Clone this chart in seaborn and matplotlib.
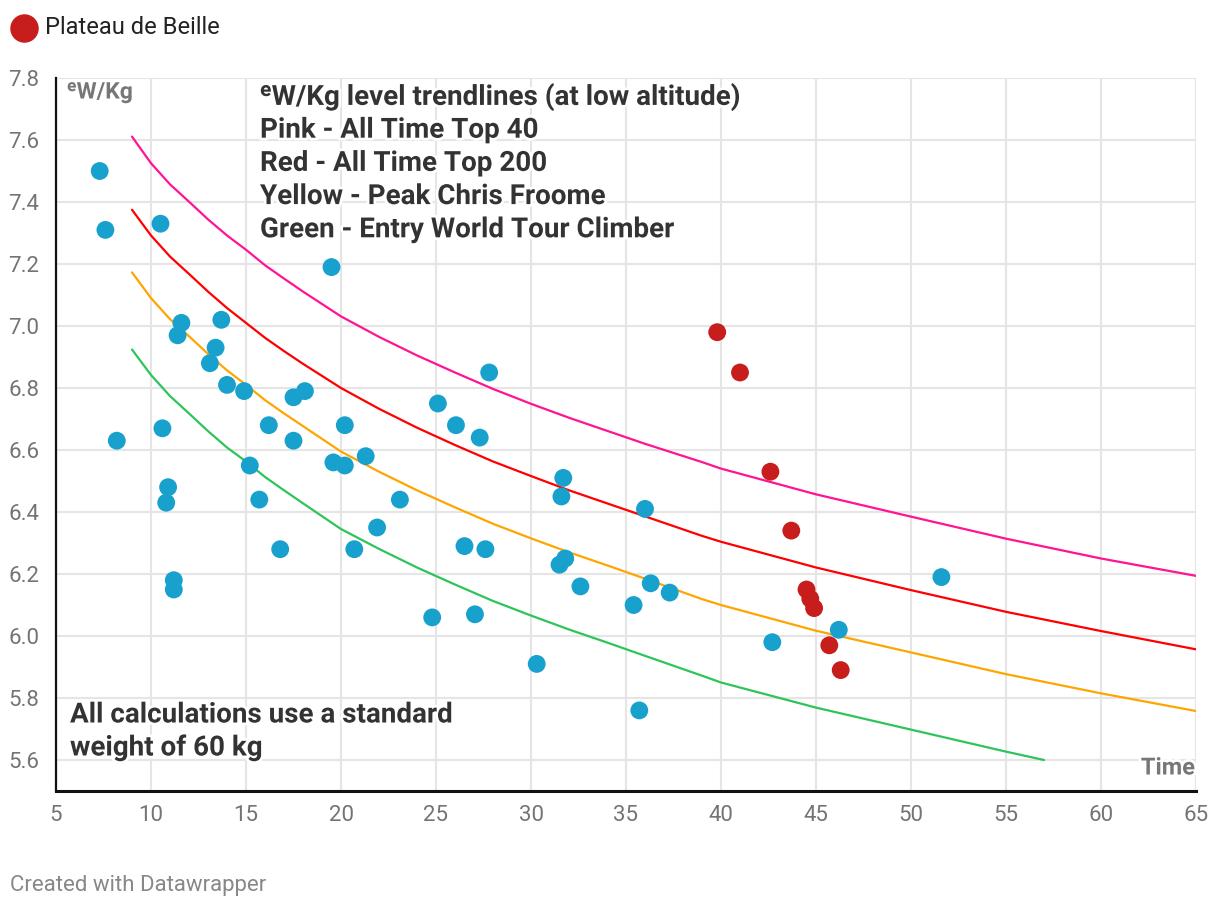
import matplotlib
matplotlib.use("Agg")
import matplotlib.pyplot as plt
import matplotlib.patheffects as pe
from matplotlib.lines import Line2D
import seaborn as sns
import pandas as pd

# ---------------- data ----------------
blue_x = [7.3, 7.6, 8.2, 10.5, 10.6, 10.9, 10.8, 11.2, 11.2, 11.6, 11.4, 13.7, 13.4, 13.1,
          14.0, 14.9, 15.2, 15.7, 16.2, 16.8, 17.5, 18.1, 17.5, 19.5, 19.6, 20.2, 20.2, 20.7,
          21.3, 21.9, 23.1, 24.8, 25.1, 26.05, 26.5, 27.3, 27.05, 27.6, 27.8, 30.3, 31.7,
          31.6, 31.8, 31.5, 32.6, 35.4, 35.7, 36.0, 36.3, 37.3, 42.7, 46.2, 51.6]
blue_y = [7.50, 7.31, 6.63, 7.33, 6.67, 6.48, 6.43, 6.18, 6.15, 7.01, 6.97, 7.02, 6.93, 6.88,
          6.81, 6.79, 6.55, 6.44, 6.68, 6.28, 6.77, 6.79, 6.63, 7.19, 6.56, 6.55, 6.68, 6.28,
          6.58, 6.35, 6.44, 6.06, 6.75, 6.68, 6.29, 6.64, 6.07, 6.28, 6.85, 5.91, 6.51,
          6.45, 6.25, 6.23, 6.16, 6.10, 5.76, 6.41, 6.17, 6.14, 5.98, 6.02, 6.19]

plateau_x = [39.8, 41.0, 42.6, 43.7, 44.5, 44.7, 44.9, 45.7, 46.3]
plateau_y = [6.98, 6.85, 6.53, 6.34, 6.15, 6.12, 6.09, 5.97, 5.89]

trend_x = [9, 10, 11, 12, 13, 14, 15, 16, 17, 18, 20, 22, 24, 26, 28, 30, 32, 34, 36, 39,
           40, 45, 50, 55, 60, 65]
pink_y = [7.611, 7.525, 7.457, 7.401, 7.344, 7.292, 7.246, 7.196, 7.153, 7.111, 7.031,
          6.965, 6.905, 6.850, 6.797, 6.749, 6.704, 6.662, 6.620, 6.561, 6.540, 6.457,
          6.385, 6.314, 6.250, 6.194]
red_y = [7.375, 7.292, 7.224, 7.168, 7.111, 7.058, 7.010, 6.962, 6.919, 6.878, 6.800,
         6.733, 6.672, 6.616, 6.563, 6.516, 6.470, 6.428, 6.386, 6.323, 6.304, 6.221,
         6.148, 6.078, 6.016, 5.957]
yellow_y = [7.173, 7.090, 7.022, 6.967, 6.910, 6.857, 6.810, 6.761, 6.718, 6.677, 6.595,
            6.530, 6.470, 6.415, 6.362, 6.315, 6.270, 6.228, 6.185, 6.119, 6.100, 6.017,
            5.947, 5.877, 5.815, 5.758]
green_x = [9, 10, 11, 12, 13, 14, 15, 16, 17, 18, 20, 22, 24, 26, 28, 30, 32, 34, 36, 39,
           40, 45, 50, 55, 57]
green_y = [6.924, 6.842, 6.774, 6.718, 6.661, 6.608, 6.563, 6.513, 6.470, 6.428, 6.345,
           6.281, 6.221, 6.166, 6.113, 6.066, 6.021, 5.979, 5.936, 5.872, 5.850, 5.769,
           5.698, 5.627, 5.600]

x_ticks = [5, 10, 15, 20, 25, 30, 35, 40, 45, 50, 55, 60, 65]
y_ticks = [5.6, 5.8, 6.0, 6.2, 6.4, 6.6, 6.8, 7.0, 7.2, 7.4, 7.6, 7.8]

legend_label = "Plateau de Beille"
note_lines = ["\u1d49W/Kg level trendlines (at low altitude)",
              "Pink - All Time Top 40",
              "Red - All Time Top 200",
              "Yellow - Peak Chris Froome",
              "Green - Entry World Tour Climber"]
weight_note = ["All calculations use a standard", "weight of 60 kg"]

# ---------------- style ----------------
sns.set_theme(style="white")
plt.rcParams['font.family'] = ['Roboto', 'DejaVu Sans']

W, H = 1220, 910
fig = plt.figure(figsize=(W / 100, H / 100), dpi=100)
ax = fig.add_axes([56 / W, 1 - 791 / H, (1196 - 56) / W, (791 - 78) / H])

GRID = "#e5e5e5"
for xv in x_ticks:
    ax.axvline(xv, color=GRID, lw=1.5, zorder=0)
for yv in y_ticks:
    ax.axhline(yv, color=GRID, lw=1.5, zorder=0)

lines = [(trend_x, pink_y, "#ff1493"), (trend_x, red_y, "#ff0000"),
         (trend_x, yellow_y, "#ffa500"), (green_x, green_y, "#2ec45a")]
for xs, ys, c in lines:
    sns.lineplot(x=xs, y=ys, ax=ax, color=c, lw=1.6, zorder=2, sort=False)

blue_df = pd.DataFrame({"x": blue_x, "y": blue_y})
red_df = pd.DataFrame({"x": plateau_x, "y": plateau_y})
sns.scatterplot(data=blue_df, x="x", y="y", ax=ax, color="#18a1cd", s=165,
                edgecolor="none", zorder=3)
sns.scatterplot(data=red_df, x="x", y="y", ax=ax, color="#c71e1d", s=165,
                edgecolor="none", zorder=4)

ax.set_xlim(5, 65)
ax.set_ylim(5.5, 7.8)
ax.set_xticks(x_ticks)
ax.set_xticklabels([str(v) for v in x_ticks])
ax.set_yticks(y_ticks)
ax.set_yticklabels([f"{v:.1f}" for v in y_ticks])
ax.tick_params(axis="both", length=0, labelsize=16, labelcolor="#747474")
ax.tick_params(axis="y", pad=12)
ax.tick_params(axis="x", pad=10)
ax.set_xlabel("")
ax.set_ylabel("")
for s in ["top", "right"]:
    ax.spines[s].set_visible(False)
ax.spines["left"].set_color("#111111")
ax.spines["left"].set_linewidth(1.6)
ax.spines["bottom"].set_color("#111111")
ax.spines["bottom"].set_linewidth(2.2)
ax.spines["left"].set_zorder(5)
ax.spines["bottom"].set_zorder(5)

halo = [pe.withStroke(linewidth=4, foreground="white")]

fig.text(67 / W, 1 - 92 / H, "\u1d49W/Kg", fontsize=16.5, fontweight="bold",
         color="#777777", va="center", ha="left", path_effects=halo)

for i, t in enumerate(note_lines):
    fig.text(260 / W, 1 - (97 + i * 33.2) / H, t, fontsize=20, fontweight="bold",
             color="#333333", va="center", ha="left", path_effects=halo)

for i, t in enumerate(weight_note):
    fig.text(70 / W, 1 - (715 + i * 33) / H, t, fontsize=20, fontweight="bold",
             color="#333333", va="center", ha="left", path_effects=halo)

fig.text(1195 / W, 1 - 768 / H, "Time", fontsize=17, fontweight="bold",
         color="#777777", va="center", ha="right", path_effects=halo)

# legend
fig.add_artist(Line2D([23.5 / W], [1 - 27.5 / H], marker="o", ms=19.5, color="#c71e1d",
                      transform=fig.transFigure, linestyle="none"))
fig.text(45 / W, 1 - 27 / H, legend_label, fontsize=17, color="#222222",
         va="center", ha="left")

fig.text(10 / W, 1 - 885 / H, "Created with Datawrapper", fontsize=16,
         color="#888888", va="center", ha="left")

fig.savefig("out.png", dpi=100, facecolor="white")
